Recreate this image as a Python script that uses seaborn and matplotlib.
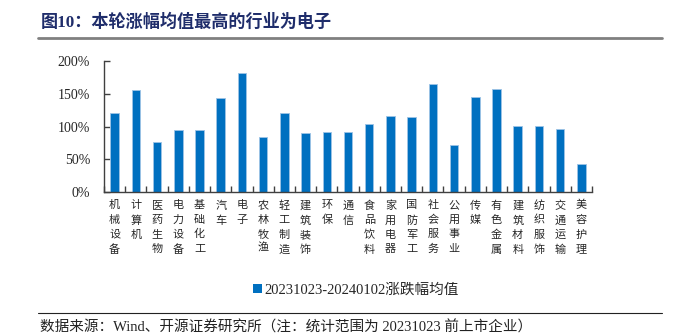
import matplotlib
matplotlib.use('Agg')
import matplotlib.pyplot as plt
import seaborn as sns
import pandas as pd
from matplotlib.ticker import FuncFormatter, FixedLocator
from matplotlib.patches import Patch
from matplotlib.lines import Line2D

# ---- data ----
categories = ["机械设备", "计算机", "医药生物", "电力设备", "基础化工", "汽车", "电子",
              "农林牧渔", "轻工制造", "建筑装饰", "环保", "通信", "食品饮料", "家用电器",
              "国防军工", "社会服务", "公用事业", "传媒", "有色金属", "建筑材料",
              "纺织服饰", "交通运输", "美容护理"]
values = [121, 155, 76, 94, 95, 144, 182, 84, 120, 90, 91, 91, 104, 116,
          115, 165, 72, 145, 158, 101, 101, 96, 42]
series_name = "20231023-20240102涨跌幅均值"
yticks = [0, 50, 100, 150, 200]
title = "图10：本轮涨幅均值最高的行业为电子"
source = "数据来源：Wind、开源证券研究所（注：统计范围为 20231023 前上市企业）"

sns.set_style('white')
plt.rcParams['font.family'] = ['Liberation Serif', 'Noto Sans CJK SC']
CJK = ['Noto Sans CJK SC', 'DejaVu Sans']
MIX = ['Liberation Serif', 'Noto Sans CJK SC']

W, H = 678, 335
fig = plt.figure(figsize=(W / 100, H / 100), dpi=100)
ax = fig.add_axes([104 / W, 1 - 192 / H, 488 / W, 131 / H])

df = pd.DataFrame({'cat': categories, 'val': values})
sns.barplot(data=df, x='cat', y='val', color='#0070C0', saturation=1, width=0.4,
            edgecolor='#9DC3E6', linewidth=0.6, ax=ax)

ax.set_xlim(-0.5, len(categories) - 0.5)
ax.set_ylim(0, 200)
ax.set_xlabel('')
ax.set_ylabel('')
ax.yaxis.set_major_locator(FixedLocator(yticks))
ax.yaxis.set_major_formatter(FuncFormatter(lambda v, p: f"{v:.0f}%"))
for s in ['top', 'right']:
    ax.spines[s].set_visible(False)
for s in ['left', 'bottom']:
    ax.spines[s].set_color('#404040')
    ax.spines[s].set_linewidth(1.0)

ax.tick_params(axis='y', direction='in', length=4, width=1, color='#404040',
               labelsize=10, pad=10, left=True)
for lab in ax.get_yticklabels():
    lab.set_family('Liberation Serif')

ax.set_xticks(range(len(categories)))
ax.set_xticklabels(['\n'.join(c) for c in categories], fontsize=8, family=CJK,
                   linespacing=1.55)
ax.tick_params(axis='x', which='major', length=0, pad=6, bottom=True)
ax.set_xticks([i - 0.5 for i in range(len(categories) + 1)], minor=True)
ax.tick_params(axis='x', which='minor', direction='in', length=4, width=1,
               color='#404040', bottom=True)

ax.legend(handles=[Patch(facecolor='#0070C0', edgecolor='none')], labels=[series_name],
          loc='center', bbox_to_anchor=(356 / W, 1 - 290 / H),
          bbox_transform=fig.transFigure, frameon=False, handlelength=0.6,
          handleheight=0.6, handletextpad=0.2, prop={'family': MIX, 'size': 10.5})

fig.text(41 / W, 1 - 22 / H, title, fontsize=12.3, weight='bold', color='#1F2D6B',
         va='center', ha='left', family=MIX)
fig.add_artist(Line2D([38 / W, 662 / W], [1 - 38 / H] * 2, color='#808080', lw=2))
fig.add_artist(Line2D([38 / W, 662 / W], [1 - 313 / H] * 2, color='#222222', lw=0.8))
fig.text(40 / W, 1 - 327 / H, source, fontsize=10.5, color='#222222', va='center',
         ha='left', family=MIX)

fig.savefig('out.png', dpi=100)
